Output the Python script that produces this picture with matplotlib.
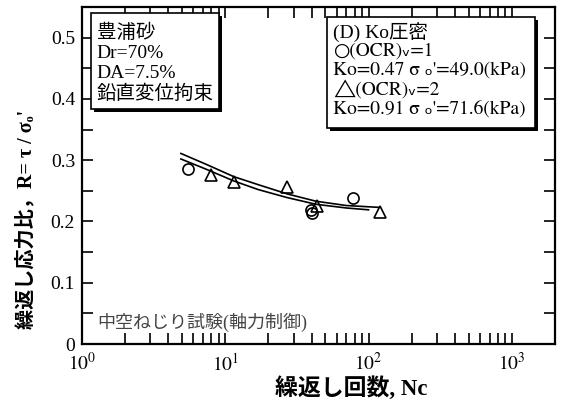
import numpy as np
import matplotlib
matplotlib.use("Agg")
import matplotlib.pyplot as plt
from matplotlib.patches import Rectangle
from matplotlib.ticker import LogLocator, MultipleLocator, NullFormatter

plt.rcParams['mathtext.fontset'] = 'stix'
JP = ['Liberation Serif', 'Noto Sans CJK JP', 'DejaVu Sans']
SERIF = ['STIXGeneral', 'DejaVu Sans']

# measured points
circle_n = [5.5, 39.5, 40.5, 78]
circle_r = [0.285, 0.218, 0.214, 0.238]
tri_n = [7.9, 11.5, 27, 43.5, 121]
tri_r = [0.276, 0.264, 0.256, 0.225, 0.215]

# the two fitted curves as drawn
upper_n = [4.9, 7.4, 11.5, 17, 27, 43, 70, 118]
upper_r = [0.311, 0.293, 0.273, 0.260, 0.245, 0.233, 0.226, 0.223]
lower_n = [4.9, 7.4, 11.5, 17, 27, 43, 70, 100]
lower_r = [0.302, 0.285, 0.266, 0.252, 0.239, 0.228, 0.222, 0.219]

fig = plt.figure(figsize=(5.63, 4.03), dpi=100)
ax = fig.add_axes([0.1456, 0.1464, 0.8402, 0.8362])

ax.plot(upper_n, upper_r, color='k', lw=1.2)
ax.plot(lower_n, lower_r, color='k', lw=1.2)
ax.plot(circle_n, circle_r, ls='none', marker='o', ms=8, mfc='none', mec='k', mew=1.2)
ax.plot(tri_n, tri_r, ls='none', marker='^', ms=9, mfc='none', mec='k', mew=1.2)

ax.set_xscale('log')
ax.set_xlim(1, 2000)
ax.set_ylim(0, 0.55)
ax.xaxis.set_minor_locator(LogLocator(base=10, subs=np.arange(2, 10), numticks=10))
ax.xaxis.set_minor_formatter(NullFormatter())
ax.set_xticks([1, 10, 100, 1000])
ax.set_xticklabels(['$10^0$', '$10^1$', '$10^2$', '$10^3$'])
ax.yaxis.set_minor_locator(MultipleLocator(0.05))
ax.set_yticks([0, 0.1, 0.2, 0.3, 0.4, 0.5])
ax.set_yticklabels(['0', '0.1', '0.2', '0.3', '0.4', '0.5'])

ax.tick_params(which='both', direction='in', top=True, right=True, length=8, width=1.2,
               labelsize=14, pad=5)
ax.tick_params(axis='x', pad=6)
for lab in ax.get_xticklabels() + ax.get_yticklabels():
    lab.set_family('Liberation Serif')
for sp in ax.spines.values():
    sp.set_linewidth(1.6)

ax.set_xlabel('繰返し回数, Nc', family=JP, fontsize=16.5, weight='bold')
ax.xaxis.set_label_coords(0.569, -0.095)
ax.set_ylabel('繰返し応力比，R= τ / σₒ\'', family=JP, fontsize=14.5, weight='bold')
ax.yaxis.set_label_coords(-0.097, 0.37)


def shadow_box(x0, y0, x1, y1):
    # box with a thick black shadow on the lower right
    ax.add_patch(Rectangle((x0 + 0.006, y0 - 0.009), x1 - x0, y1 - y0, transform=ax.transAxes,
                           facecolor='k', edgecolor='k', lw=0, zorder=4))
    ax.add_patch(Rectangle((x0, y0), x1 - x0, y1 - y0, transform=ax.transAxes,
                           facecolor='white', edgecolor='k', lw=1.2, zorder=5))


shadow_box(0.019, 0.697, 0.289, 0.982)
left_lines = ['豊浦砂', 'Dr=70%', 'DA=7.5%', '鉛直変位拘束']
for i, s in enumerate(left_lines):
    ax.text(0.031, 0.922 - i * 0.060, s, transform=ax.transAxes, family=JP,
            fontsize=14, va='center', ha='left', zorder=6)

shadow_box(0.518, 0.641, 0.958, 0.970)
right_lines = [
    ('(D) Ko圧密', JP),
    ('○(OCR)ᵥ=1', SERIF),
    ("Ko=0.47 σ ₒ'=49.0(kPa)", SERIF),
    ('△(OCR)ᵥ=2', SERIF),
    ("Ko=0.91 σ ₒ'=71.6(kPa)", SERIF),
]
for i, (s, fam) in enumerate(right_lines):
    ax.text(0.531, 0.927 - i * 0.0575, s, transform=ax.transAxes, family=fam,
            fontsize=14, va='center', ha='left', zorder=6)

ax.text(0.032, 0.065, '中空ねじり試験(軸力制御)', transform=ax.transAxes, family=JP,
        fontsize=13, color='#444444', va='center', ha='left')

fig.savefig('out.png', dpi=100)
